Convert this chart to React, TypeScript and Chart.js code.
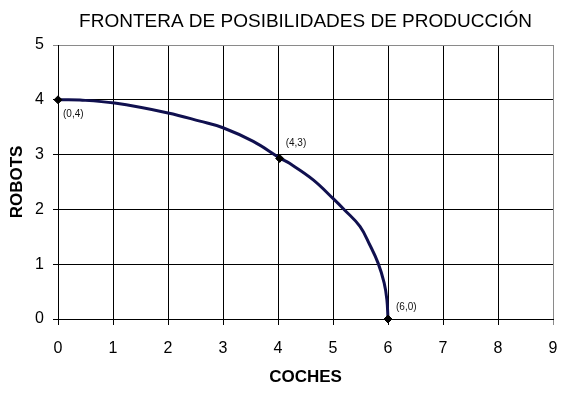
import React, { useEffect, useRef } from "react";
import { Chart, registerables } from "chart.js";

Chart.register(...registerables);

const TITLE = "FRONTERA DE POSIBILIDADES DE PRODUCCIÓN";
const X_TITLE = "COCHES";
const Y_TITLE = "ROBOTS";

// Curve (coches, robots)
const curveX = [0, 0.4, 1.03, 2.0, 2.58, 3.0, 3.55, 4.03, 4.21, 4.64, 5.0, 5.21, 5.49, 5.67, 5.82, 5.93, 5.98, 6.0];
const curveY = [4.0, 3.995, 3.94, 3.76, 3.61, 3.49, 3.24, 2.94, 2.84, 2.54, 2.2, 1.99, 1.69, 1.35, 1.02, 0.66, 0.35, 0.0];

// Marked points
const markX = [0, 4.03, 6];
const markY = [4, 2.93, 0];
const markLabels = ["(0,4)", "(4,3)", "(6,0)"];
const labelDx = [5, 6, 8];
const labelDy = [14, -15, -12];

const FONT = "'Liberation Sans', Arial, sans-serif";

export default function App() {
  const ref = useRef<HTMLCanvasElement | null>(null);
  useEffect(() => {
    if (!ref.current) return;
    const overlay = {
      id: "overlay",
      afterDraw(chart: any) {
        const { ctx, chartArea, scales } = chart;
        ctx.save();
        ctx.fillStyle = "#000";
        ctx.font = `19px ${FONT}`;
        ctx.textAlign = "center";
        ctx.textBaseline = "middle";
        ctx.fillText(TITLE, (chartArea.left + chartArea.right) / 2, 22);
        ctx.font = `10px ${FONT}`;
        ctx.textAlign = "left";
        ctx.fillStyle = "#111";
        for (let i = 0; i < markLabels.length; i++) {
          const px = scales.x.getPixelForValue(markX[i]);
          const py = scales.y.getPixelForValue(markY[i]);
          ctx.fillText(markLabels[i], px + labelDx[i], py + labelDy[i]);
        }
        ctx.restore();
      },
    };
    const chart = new Chart(ref.current, {
      type: "scatter",
      data: {
        datasets: [
          {
            data: curveX.map((x, i) => ({ x, y: curveY[i] })),
            showLine: true,
            borderColor: "#10104f",
            borderWidth: 3,
            pointRadius: 0,
            tension: 0.4,
            order: 2,
          },
          {
            data: markX.map((x, i) => ({ x, y: markY[i] })),
            showLine: false,
            pointStyle: "rectRot",
            pointRadius: 4,
            backgroundColor: "#000",
            borderColor: "#000",
            borderWidth: 1,
            clip: false,
            order: 1,
          },
        ],
      },
      options: {
        responsive: false,
        animation: false,
        devicePixelRatio: 1,
        layout: { padding: { left: 0, right: 10, top: 45, bottom: 0 } },
        plugins: {
          legend: { display: false },
          tooltip: { enabled: false },
          title: { display: false },
        },
        scales: {
          x: {
            type: "linear",
            min: 0,
            max: 9,
            afterFit: (s: any) => {
              s.height = 74;
              s.paddingLeft = 0;
              s.paddingRight = 0;
            },
            ticks: {
              stepSize: 1,
              color: "#000",
              font: { family: FONT, size: 16 },
              padding: 14,
            },
            grid: {
              color: (c: any) => (c.tick && c.tick.value === 9 ? "#8a8a8a" : "#000"),
              lineWidth: 1,
              tickLength: 6,
            },
            border: { display: true, color: "#000", width: 1 },
            title: {
              display: true,
              text: X_TITLE,
              color: "#000",
              font: { family: FONT, size: 17, weight: "bold" },
              padding: { top: 0, bottom: 5 },
            },
          },
          y: {
            type: "linear",
            min: 0,
            max: 5,
            afterFit: (s: any) => {
              s.width = 58;
              s.paddingTop = 0;
              s.paddingBottom = 0;
            },
            ticks: {
              stepSize: 1,
              color: "#000",
              font: { family: FONT, size: 16 },
              padding: 9,
            },
            grid: {
              color: (c: any) => (c.tick && c.tick.value === 5 ? "#8a8a8a" : "#000"),
              lineWidth: 1,
              tickLength: 5,
            },
            border: { display: true, color: "#000", width: 1 },
            title: {
              display: true,
              text: Y_TITLE,
              color: "#000",
              font: { family: FONT, size: 17, weight: "bold" },
              padding: { top: 7, bottom: 0 },
            },
          },
        },
      },
      plugins: [overlay],
    } as any);
    return () => chart.destroy();
  }, []);
  return (
    <div style={{ position: "absolute", left: 0, top: 0, width: 563, height: 393, background: "#fff" }}>
      <canvas ref={ref} width={563} height={393} style={{ display: "block" }} />
    </div>
  );
}
